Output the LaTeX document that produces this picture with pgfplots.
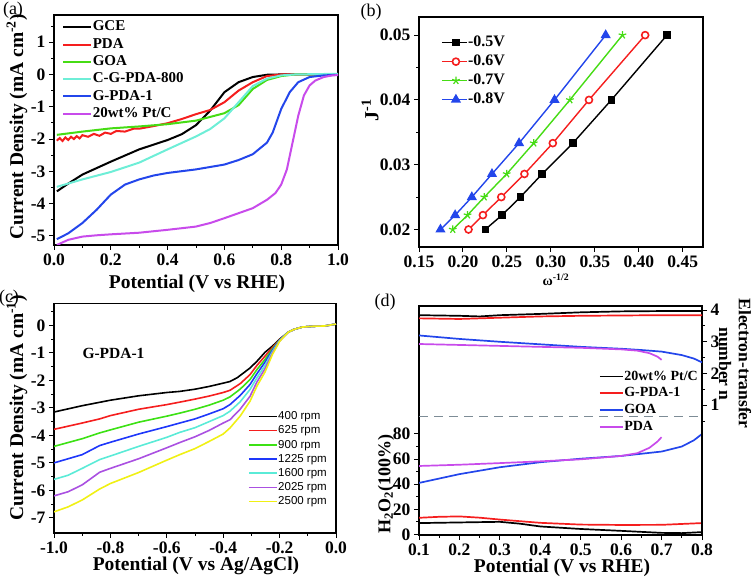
\documentclass[border=0pt]{standalone}
\usepackage{pgfplots}
\pgfplotsset{compat=1.18}
\usepackage{fontspec}
\setmainfont{Liberation Serif}
\newfontfamily\arial{Liberation Sans}
\definecolor{cred}{RGB}{245,30,30}
\definecolor{cgreen}{RGB}{70,220,20}
\definecolor{ccyan}{RGB}{110,238,215}
\definecolor{cblue}{RGB}{35,70,235}
\definecolor{cpurp}{RGB}{200,75,235}
\definecolor{cgreenc}{RGB}{60,225,20}
\definecolor{cbluec}{RGB}{30,55,250}
\definecolor{ccyanc}{RGB}{90,235,215}
\definecolor{cpurpc}{RGB}{170,80,225}
\definecolor{cyel}{RGB}{240,240,20}
\definecolor{cdash}{RGB}{125,140,150}
\pgfplotsset{
  base/.style={scale only axis, anchor=south west,
    axis line style={line width=1.1pt},
    tick align=outside, xtick pos=bottom, ytick pos=left,
    major tick length=5pt, minor tick length=3pt,
    every tick/.append style={line width=1pt, black},
    every minor tick/.append style={line width=0.9pt, black},
    tick label style={font=\fontsize{17.5}{17.5}\selectfont\bfseries},
    scaled x ticks=false, scaled y ticks=false,
    /pgf/number format/assume math mode=true,
    legend cell align=left},
  lineleg/.style={legend image code/.code={\draw[##1] (0pt,0pt) -- (#1,0pt);}},
  fmt/.style={/pgf/number format/fixed, /pgf/number format/fixed zerofill, /pgf/number format/precision=#1}
}
\begin{document}
\begin{tikzpicture}[x=1pt,y=1pt]
\useasboundingbox (0,0) rectangle (752,580);
% ---------------- (a)
\begin{axis}[base, at={(54pt,335pt)}, width=284pt, height=230pt,
  xmin=0, xmax=1, ymin=-5.28, ymax=1.84,
  xtick={0,0.2,0.4,0.6,0.8,1}, minor xtick={0.1,0.3,0.5,0.7,0.9},
  ytick={-5,-4,-3,-2,-1,0,1}, minor ytick={-4.5,-3.5,-2.5,-1.5,-0.5,0.5,1.5},
  xticklabel style={fmt=1},
  every axis plot/.append style={line width=2pt},
  lineleg=28pt,
  legend style={at={(0.018,0.99)}, anchor=north west, draw=none, fill=none,
    font=\fontsize{15}{15}\selectfont\bfseries, row sep=1.8pt,
    nodes={inner sep=0.5pt, text height=11pt, text depth=3.5pt}}]
\addplot[black] coordinates {(0.01,-3.62) (0.05,-3.38) (0.1,-3.1) (0.15,-2.9) (0.2,-2.7) (0.3,-2.32) (0.4,-2.03) (0.45,-1.85) (0.5,-1.57) (0.55,-1.12) (0.6,-0.55) (0.65,-0.24) (0.7,-0.08) (0.75,-0.01) (0.8,0) (1.0,0)};
\addlegendentry{GCE}
\addplot[cred] coordinates {(0.01,-2.05) (0.02,-1.97) (0.03,-2.06) (0.04,-1.95) (0.05,-2.03) (0.06,-1.93) (0.07,-2.0) (0.08,-1.91) (0.09,-1.98) (0.10,-1.88) (0.12,-1.93) (0.14,-1.84) (0.16,-1.9) (0.18,-1.8) (0.2,-1.84) (0.22,-1.75) (0.25,-1.77) (0.28,-1.68) (0.3,-1.68) (0.35,-1.6) (0.4,-1.51) (0.45,-1.38) (0.5,-1.23) (0.55,-1.1) (0.6,-0.86) (0.65,-0.5) (0.7,-0.24) (0.75,-0.05) (0.8,0) (1.0,0)};
\addlegendentry{PDA}
\addplot[cgreen] coordinates {(0.01,-1.87) (0.1,-1.77) (0.2,-1.67) (0.3,-1.61) (0.4,-1.54) (0.5,-1.43) (0.6,-1.2) (0.65,-0.95) (0.7,-0.45) (0.75,-0.17) (0.8,-0.05) (0.85,0) (1.0,0)};
\addlegendentry{GOA}
\addplot[ccyan] coordinates {(0.01,-3.48) (0.1,-3.25) (0.2,-3.02) (0.3,-2.73) (0.4,-2.32) (0.5,-1.92) (0.55,-1.69) (0.6,-1.36) (0.65,-0.86) (0.7,-0.36) (0.75,-0.13) (0.8,-0.03) (0.85,0) (1.0,0.02)};
\addlegendentry{C-G-PDA-800}
\addplot[cblue] coordinates {(0.01,-5.1) (0.05,-4.92) (0.1,-4.6) (0.15,-4.19) (0.2,-3.72) (0.25,-3.41) (0.3,-3.25) (0.35,-3.13) (0.4,-3.05) (0.5,-2.94) (0.6,-2.79) (0.65,-2.65) (0.7,-2.47) (0.75,-2.11) (0.77,-1.8) (0.8,-1.07) (0.83,-0.55) (0.86,-0.24) (0.9,-0.08) (0.95,-0.03) (1.0,-0.01)};
\addlegendentry{G-PDA-1}
\addplot[cpurp] coordinates {(0.01,-5.28) (0.05,-5.12) (0.1,-5.02) (0.15,-4.98) (0.2,-4.95) (0.3,-4.9) (0.4,-4.81) (0.5,-4.71) (0.55,-4.6) (0.6,-4.45) (0.7,-4.14) (0.75,-3.88) (0.78,-3.67) (0.8,-3.41) (0.82,-2.94) (0.84,-2.11) (0.86,-1.28) (0.88,-0.65) (0.9,-0.34) (0.92,-0.19) (0.95,-0.08) (0.98,-0.03) (1.0,-0.02)};
\addlegendentry{20wt\% Pt/C}
\end{axis}
% ---------------- (b)
\begin{axis}[base, at={(419pt,333pt)}, width=284pt, height=230pt,
  xmin=0.15, xmax=0.473, ymin=0.0173, ymax=0.0528,
  xtick={0.15,0.20,0.25,0.30,0.35,0.40,0.45},
  ytick={0.02,0.03,0.04,0.05}, minor ytick={0.025,0.035,0.045},
  xticklabel style={fmt=2},
  yticklabel style={fmt=2},
  every axis plot/.append style={line width=1.4pt},
  legend image code/.code={\draw[mark repeat=2,mark phase=2,#1] plot coordinates {(0pt,0pt) (14pt,0pt) (25pt,0pt)};},
  legend style={at={(0.067,0.935)}, anchor=north west, draw=none, fill=none,
    font=\fontsize{16}{16}\selectfont\bfseries, row sep=2pt,
    nodes={inner sep=0.5pt, text height=12pt, text depth=4pt}}]
\addplot[black, mark=square*, mark size=3pt] coordinates {(0.2253,0.02) (0.2444,0.02222) (0.2653,0.025) (0.290,0.02857) (0.325,0.03333) (0.3688,0.04) (0.432,0.05)};
\addlegendentry{-0.5V}
\addplot[cred, mark=*, mark size=3.5pt, mark options={fill=white, draw=cred, line width=1.6pt}] coordinates {(0.2063,0.02) (0.2227,0.02222) (0.2436,0.025) (0.2699,0.02857) (0.3022,0.03333) (0.3433,0.04) (0.4072,0.05)};
\addlegendentry{-0.6V}
\addplot[cgreen, mark=star, mark size=4pt, mark options={line width=1.2pt}] coordinates {(0.1884,0.02) (0.2052,0.02222) (0.2242,0.025) (0.2497,0.02857) (0.2805,0.03333) (0.3216,0.04) (0.3814,0.05)};
\addlegendentry{-0.7V}
\addplot[cblue, mark=triangle*, mark size=4.5pt] coordinates {(0.1744,0.02) (0.1911,0.02222) (0.2101,0.025) (0.2330,0.02857) (0.2638,0.03333) (0.3041,0.04) (0.3623,0.05)};
\addlegendentry{-0.8V}
\end{axis}
% ---------------- (c)
\begin{axis}[base, at={(54pt,47pt)}, width=282pt, height=229.3pt,
  xmin=-1, xmax=0, ymin=-7.55, ymax=0.79,
  xtick={-1,-0.8,-0.6,-0.4,-0.2,0}, minor xtick={-0.9,-0.7,-0.5,-0.3,-0.1},
  ytick={-7,-6,-5,-4,-3,-2,-1,0}, minor ytick={-6.5,-5.5,-4.5,-3.5,-2.5,-1.5,-0.5,0.5},
  xticklabel style={fmt=1},
  every axis plot/.append style={line width=1.6pt},
  lineleg=28pt,
  legend style={at={(0.677,0.545)}, anchor=north west, draw=none, fill=none,
    font=\arial\fontsize{11.5}{11.5}\selectfont, row sep=1.7pt,
    nodes={inner sep=0.5pt, text height=9pt, text depth=2.5pt}}]
\addplot[black] coordinates {(-1,-3.15) (-0.9,-2.92) (-0.8,-2.72) (-0.7,-2.56) (-0.6,-2.44) (-0.554,-2.40) (-0.5,-2.32) (-0.45,-2.22) (-0.4,-2.10) (-0.376,-2.04) (-0.35,-1.90) (-0.305,-1.55) (-0.28,-1.30) (-0.252,-0.98) (-0.225,-0.75) (-0.2,-0.50) (-0.17,-0.25) (-0.15,-0.15) (-0.12,-0.06) (-0.08,-0.03) (-0.04,-0.02) (0,0.05)};
\addlegendentry{400 rpm}
\addplot[cred] coordinates {(-1,-3.78) (-0.9,-3.55) (-0.838,-3.40) (-0.8,-3.28) (-0.7,-3.05) (-0.6,-2.88) (-0.554,-2.79) (-0.5,-2.68) (-0.45,-2.57) (-0.4,-2.44) (-0.376,-2.36) (-0.34,-2.12) (-0.305,-1.79) (-0.28,-1.45) (-0.252,-1.12) (-0.225,-0.8) (-0.2,-0.52) (-0.17,-0.25) (-0.15,-0.15) (-0.12,-0.06) (-0.08,-0.03) (-0.04,-0.02) (0,0.05)};
\addlegendentry{625 rpm}
\addplot[cgreenc] coordinates {(-1,-4.4) (-0.9,-4.12) (-0.838,-3.91) (-0.8,-3.80) (-0.7,-3.52) (-0.6,-3.30) (-0.554,-3.19) (-0.5,-3.05) (-0.45,-2.90) (-0.4,-2.72) (-0.376,-2.60) (-0.34,-2.32) (-0.305,-1.97) (-0.28,-1.60) (-0.252,-1.24) (-0.225,-0.85) (-0.2,-0.53) (-0.17,-0.25) (-0.15,-0.15) (-0.12,-0.06) (-0.08,-0.03) (-0.04,-0.02) (0,0.05)};
\addlegendentry{900 rpm}
\addplot[cbluec] coordinates {(-1,-5.0) (-0.9,-4.7) (-0.838,-4.37) (-0.8,-4.25) (-0.7,-3.95) (-0.6,-3.68) (-0.554,-3.55) (-0.5,-3.40) (-0.45,-3.22) (-0.4,-3.03) (-0.376,-2.88) (-0.34,-2.55) (-0.305,-2.15) (-0.28,-1.75) (-0.252,-1.34) (-0.225,-0.9) (-0.2,-0.54) (-0.17,-0.25) (-0.15,-0.15) (-0.12,-0.06) (-0.08,-0.03) (-0.04,-0.02) (0,0.05)};
\addlegendentry{1225 rpm}
\addplot[ccyanc] coordinates {(-1,-5.6) (-0.95,-5.45) (-0.9,-5.2) (-0.838,-4.88) (-0.8,-4.75) (-0.7,-4.40) (-0.6,-4.07) (-0.554,-3.89) (-0.5,-3.72) (-0.45,-3.50) (-0.4,-3.28) (-0.376,-3.12) (-0.34,-2.78) (-0.305,-2.33) (-0.28,-1.9) (-0.252,-1.46) (-0.225,-0.95) (-0.2,-0.55) (-0.17,-0.25) (-0.15,-0.15) (-0.12,-0.06) (-0.08,-0.03) (-0.04,-0.02) (0,0.05)};
\addlegendentry{1600 rpm}
\addplot[cpurpc] coordinates {(-1,-6.2) (-0.95,-6.05) (-0.9,-5.8) (-0.838,-5.34) (-0.8,-5.2) (-0.7,-4.85) (-0.6,-4.45) (-0.554,-4.26) (-0.5,-4.05) (-0.45,-3.82) (-0.4,-3.55) (-0.376,-3.43) (-0.34,-3.05) (-0.305,-2.58) (-0.28,-2.05) (-0.252,-1.58) (-0.225,-1.0) (-0.2,-0.57) (-0.17,-0.25) (-0.15,-0.15) (-0.12,-0.06) (-0.08,-0.03) (-0.04,-0.02) (0,0.05)};
\addlegendentry{2025 rpm}
\addplot[cyel] coordinates {(-1,-6.78) (-0.95,-6.6) (-0.9,-6.35) (-0.838,-5.95) (-0.8,-5.75) (-0.7,-5.35) (-0.6,-4.9) (-0.554,-4.70) (-0.5,-4.48) (-0.45,-4.22) (-0.4,-3.95) (-0.376,-3.73) (-0.34,-3.3) (-0.305,-2.76) (-0.28,-2.2) (-0.252,-1.70) (-0.225,-1.05) (-0.2,-0.58) (-0.17,-0.25) (-0.15,-0.15) (-0.12,-0.06) (-0.08,-0.03) (-0.04,-0.02) (0,0.05)};
\addlegendentry{2500 rpm}
\end{axis}
% ---------------- (d) left axis: H2O2
\begin{axis}[base, at={(419pt,45pt)}, width=283pt, height=229pt,
  xmin=0.1, xmax=0.8, ymin=-0.5, ymax=182,
  xtick={0.1,0.2,0.3,0.4,0.5,0.6,0.7,0.8}, minor xtick={0.15,0.25,0.35,0.45,0.55,0.65,0.75},
  ytick={0,20,40,60,80}, minor ytick={10,30,50,70},
  xticklabel style={fmt=1},
  every axis plot/.append style={line width=1.7pt},
  lineleg=23pt,
  legend style={at={(0.625,0.734)}, anchor=north west, draw=none, fill=none,
    font=\fontsize{14}{14}\selectfont\bfseries, row sep=1.7pt,
    nodes={inner sep=0.5pt, text height=10.5pt, text depth=3.5pt}}]
\addplot[black] coordinates {(0.1,9) (0.2,9.5) (0.3,10) (0.35,8.5) (0.4,6.3) (0.5,4.3) (0.6,2.8) (0.7,1.2) (0.75,1.0) (0.8,1.8)};
\addlegendentry{20wt\% Pt/C}
\addplot[cred] coordinates {(0.1,13.2) (0.15,14) (0.2,14.3) (0.25,13.3) (0.3,11.8) (0.35,10.5) (0.4,9.2) (0.5,7.8) (0.6,7.5) (0.7,7.6) (0.8,9.0)};
\addlegendentry{G-PDA-1}
\addplot[cblue] coordinates {(0.1,41) (0.2,48) (0.3,53.5) (0.4,57.5) (0.5,60.3) (0.6,62.5) (0.7,66) (0.75,70) (0.78,75) (0.8,80)};
\addlegendentry{GOA}
\addplot[cpurp] coordinates {(0.1,54.5) (0.2,55.5) (0.3,56.8) (0.4,58.2) (0.5,59.8) (0.6,62.5) (0.64,64.7) (0.67,69) (0.69,74) (0.70,77.5)};
\addlegendentry{PDA}
\addplot[cdash, dash pattern=on 9pt off 6pt, line width=1.4pt, forget plot] coordinates {(0.1,93.7) (0.8,93.7)};
\end{axis}
% ---------------- (d) right axis: n
\begin{axis}[base, at={(419pt,45pt)}, width=283pt, height=229pt,
  xmin=0.1, xmax=0.8, ymin=-3.10, ymax=4.13,
  axis x line=none, axis y line*=right, ytick pos=right,
  ytick={1,2,3,4}, minor ytick={0.5,1.5,2.5,3.5},
  every axis plot/.append style={line width=1.7pt}]
\addplot[black] coordinates {(0.1,3.84) (0.2,3.82) (0.25,3.80) (0.3,3.84) (0.4,3.88) (0.5,3.93) (0.6,3.96) (0.7,3.97) (0.8,3.97)};
\addplot[cred] coordinates {(0.1,3.74) (0.2,3.72) (0.3,3.76) (0.4,3.80) (0.5,3.82) (0.6,3.83) (0.7,3.84) (0.8,3.84)};
\addplot[cblue] coordinates {(0.1,3.2) (0.2,3.09) (0.3,3.0) (0.4,2.92) (0.5,2.84) (0.6,2.78) (0.65,2.74) (0.7,2.69) (0.75,2.58) (0.78,2.47) (0.8,2.35)};
\addplot[cpurp] coordinates {(0.1,2.93) (0.2,2.90) (0.3,2.87) (0.4,2.84) (0.5,2.81) (0.6,2.76) (0.64,2.72) (0.67,2.64) (0.69,2.53) (0.70,2.43)};
\end{axis}
% ---------------- text labels
\node[font=\fontsize{18}{18}\selectfont] at (13,570) {(a)};
\node[font=\fontsize{18}{18}\selectfont] at (371,568) {(b)};
\node[font=\fontsize{18}{18}\selectfont] at (9,281.5) {(c)};
\node[font=\fontsize{18}{18}\selectfont] at (385,277.5) {(d)};
\node[font=\fontsize{19.5}{19.5}\selectfont\bfseries] at (197,296) {Potential (V vs RHE)};
\node[rotate=90, font=\fontsize{19.5}{19.5}\selectfont\bfseries] at (17,453) {Current Density (mA cm\textsuperscript{-2})};
\node[font=\fontsize{14}{14}\selectfont\bfseries] at (556,300) {ω\textsuperscript{-1/2}};
\node[rotate=90, font=\fontsize{20}{20}\selectfont\bfseries] at (370,470) {J\textsuperscript{-1}};
\node[font=\fontsize{19.5}{19.5}\selectfont\bfseries] at (196,14) {Potential (V vs Ag/AgCl)};
\node[rotate=90, font=\fontsize{19.5}{19.5}\selectfont\bfseries] at (17,172) {Current Density (mA cm\textsuperscript{-1})};
\node[font=\fontsize{15.5}{15.5}\selectfont\bfseries] at (113.5,227) {G-PDA-1};
\node[font=\fontsize{19.5}{19.5}\selectfont\bfseries] at (562,12) {Potential (V vs RHE)};
\node[rotate=90, font=\fontsize{18}{18}\selectfont\bfseries] at (386,96) {H\textsubscript{2}O\textsubscript{2}(100\%)};
\node[rotate=-90, font=\fontsize{17.5}{17.5}\selectfont\bfseries] at (745,216.5) {Electron-transfer};
\node[rotate=-90, font=\fontsize{17.5}{17.5}\selectfont\bfseries] at (725,216) {number n};
\end{tikzpicture}
\end{document}
